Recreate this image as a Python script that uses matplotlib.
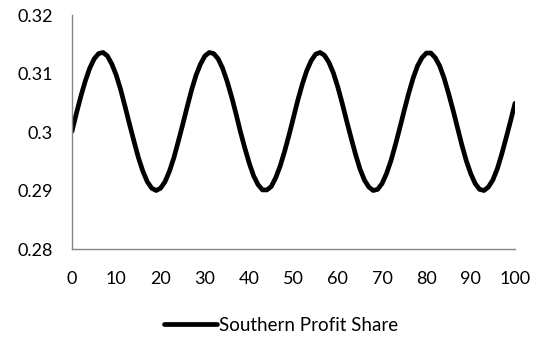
import numpy as np
import matplotlib
matplotlib.use("Agg")
import matplotlib.pyplot as plt
from matplotlib.ticker import FuncFormatter, MultipleLocator

plt.rcParams['font.family'] = ['Lato', 'DejaVu Sans']

period = list(range(0, 101))
profit_share = [
    0.3001, 0.3032, 0.3061, 0.3087, 0.3109, 0.3125, 0.3134, 0.3136, 0.3130, 0.3116,
    0.3097, 0.3072, 0.3043, 0.3013, 0.2984, 0.2956, 0.2933, 0.2915, 0.2904, 0.2900,
    0.2904, 0.2915, 0.2933, 0.2956, 0.2984, 0.3013, 0.3043, 0.3072, 0.3097, 0.3116,
    0.3130, 0.3136, 0.3134, 0.3125, 0.3109, 0.3087, 0.3061, 0.3032, 0.3001, 0.2973,
    0.2947, 0.2925, 0.2910, 0.2901, 0.2901, 0.2907, 0.2922, 0.2942, 0.2967, 0.2995,
    0.3025, 0.3055, 0.3082, 0.3105, 0.3122, 0.3133, 0.3136, 0.3131, 0.3119, 0.3101,
    0.3077, 0.3049, 0.3019, 0.2990, 0.2962, 0.2937, 0.2918, 0.2906, 0.2900, 0.2902,
    0.2912, 0.2929, 0.2951, 0.2978, 0.3007, 0.3037, 0.3066, 0.3092, 0.3113, 0.3127,
    0.3135, 0.3135, 0.3127, 0.3113, 0.3092, 0.3066, 0.3038, 0.3008, 0.2978, 0.2951,
    0.2929, 0.2912, 0.2902, 0.2900, 0.2906, 0.2918, 0.2937, 0.2962, 0.2990, 0.3019,
    0.3049,
]

fig = plt.figure(figsize=(5.4, 3.38), dpi=100)
ax = fig.add_axes([0.1333, 0.2633, 0.8204, 0.6923])

ax.plot(period, profit_share, color='black', lw=3.4,
        solid_capstyle='round', solid_joinstyle='round',
        label='Southern Profit Share')

ax.set_xlim(0, 100)
ax.set_ylim(0.28, 0.32)
ax.xaxis.set_major_locator(MultipleLocator(10))
ax.yaxis.set_major_locator(MultipleLocator(0.01))
ax.yaxis.set_major_formatter(FuncFormatter(lambda v, p: '{:g}'.format(round(v, 4))))

for side in ['top', 'right']:
    ax.spines[side].set_visible(False)
for side in ['left', 'bottom']:
    ax.spines[side].set_color('#868686')
    ax.spines[side].set_linewidth(1.0)
ax.tick_params(length=0, labelsize=13, colors='black')
ax.tick_params(axis='y', pad=14)
ax.tick_params(axis='x', pad=16)

fig.legend(loc='center', bbox_to_anchor=(0.521, 0.038), frameon=False,
           fontsize=13.5, handlelength=2.8, handletextpad=0.15)

plt.savefig('out.png', dpi=100)
